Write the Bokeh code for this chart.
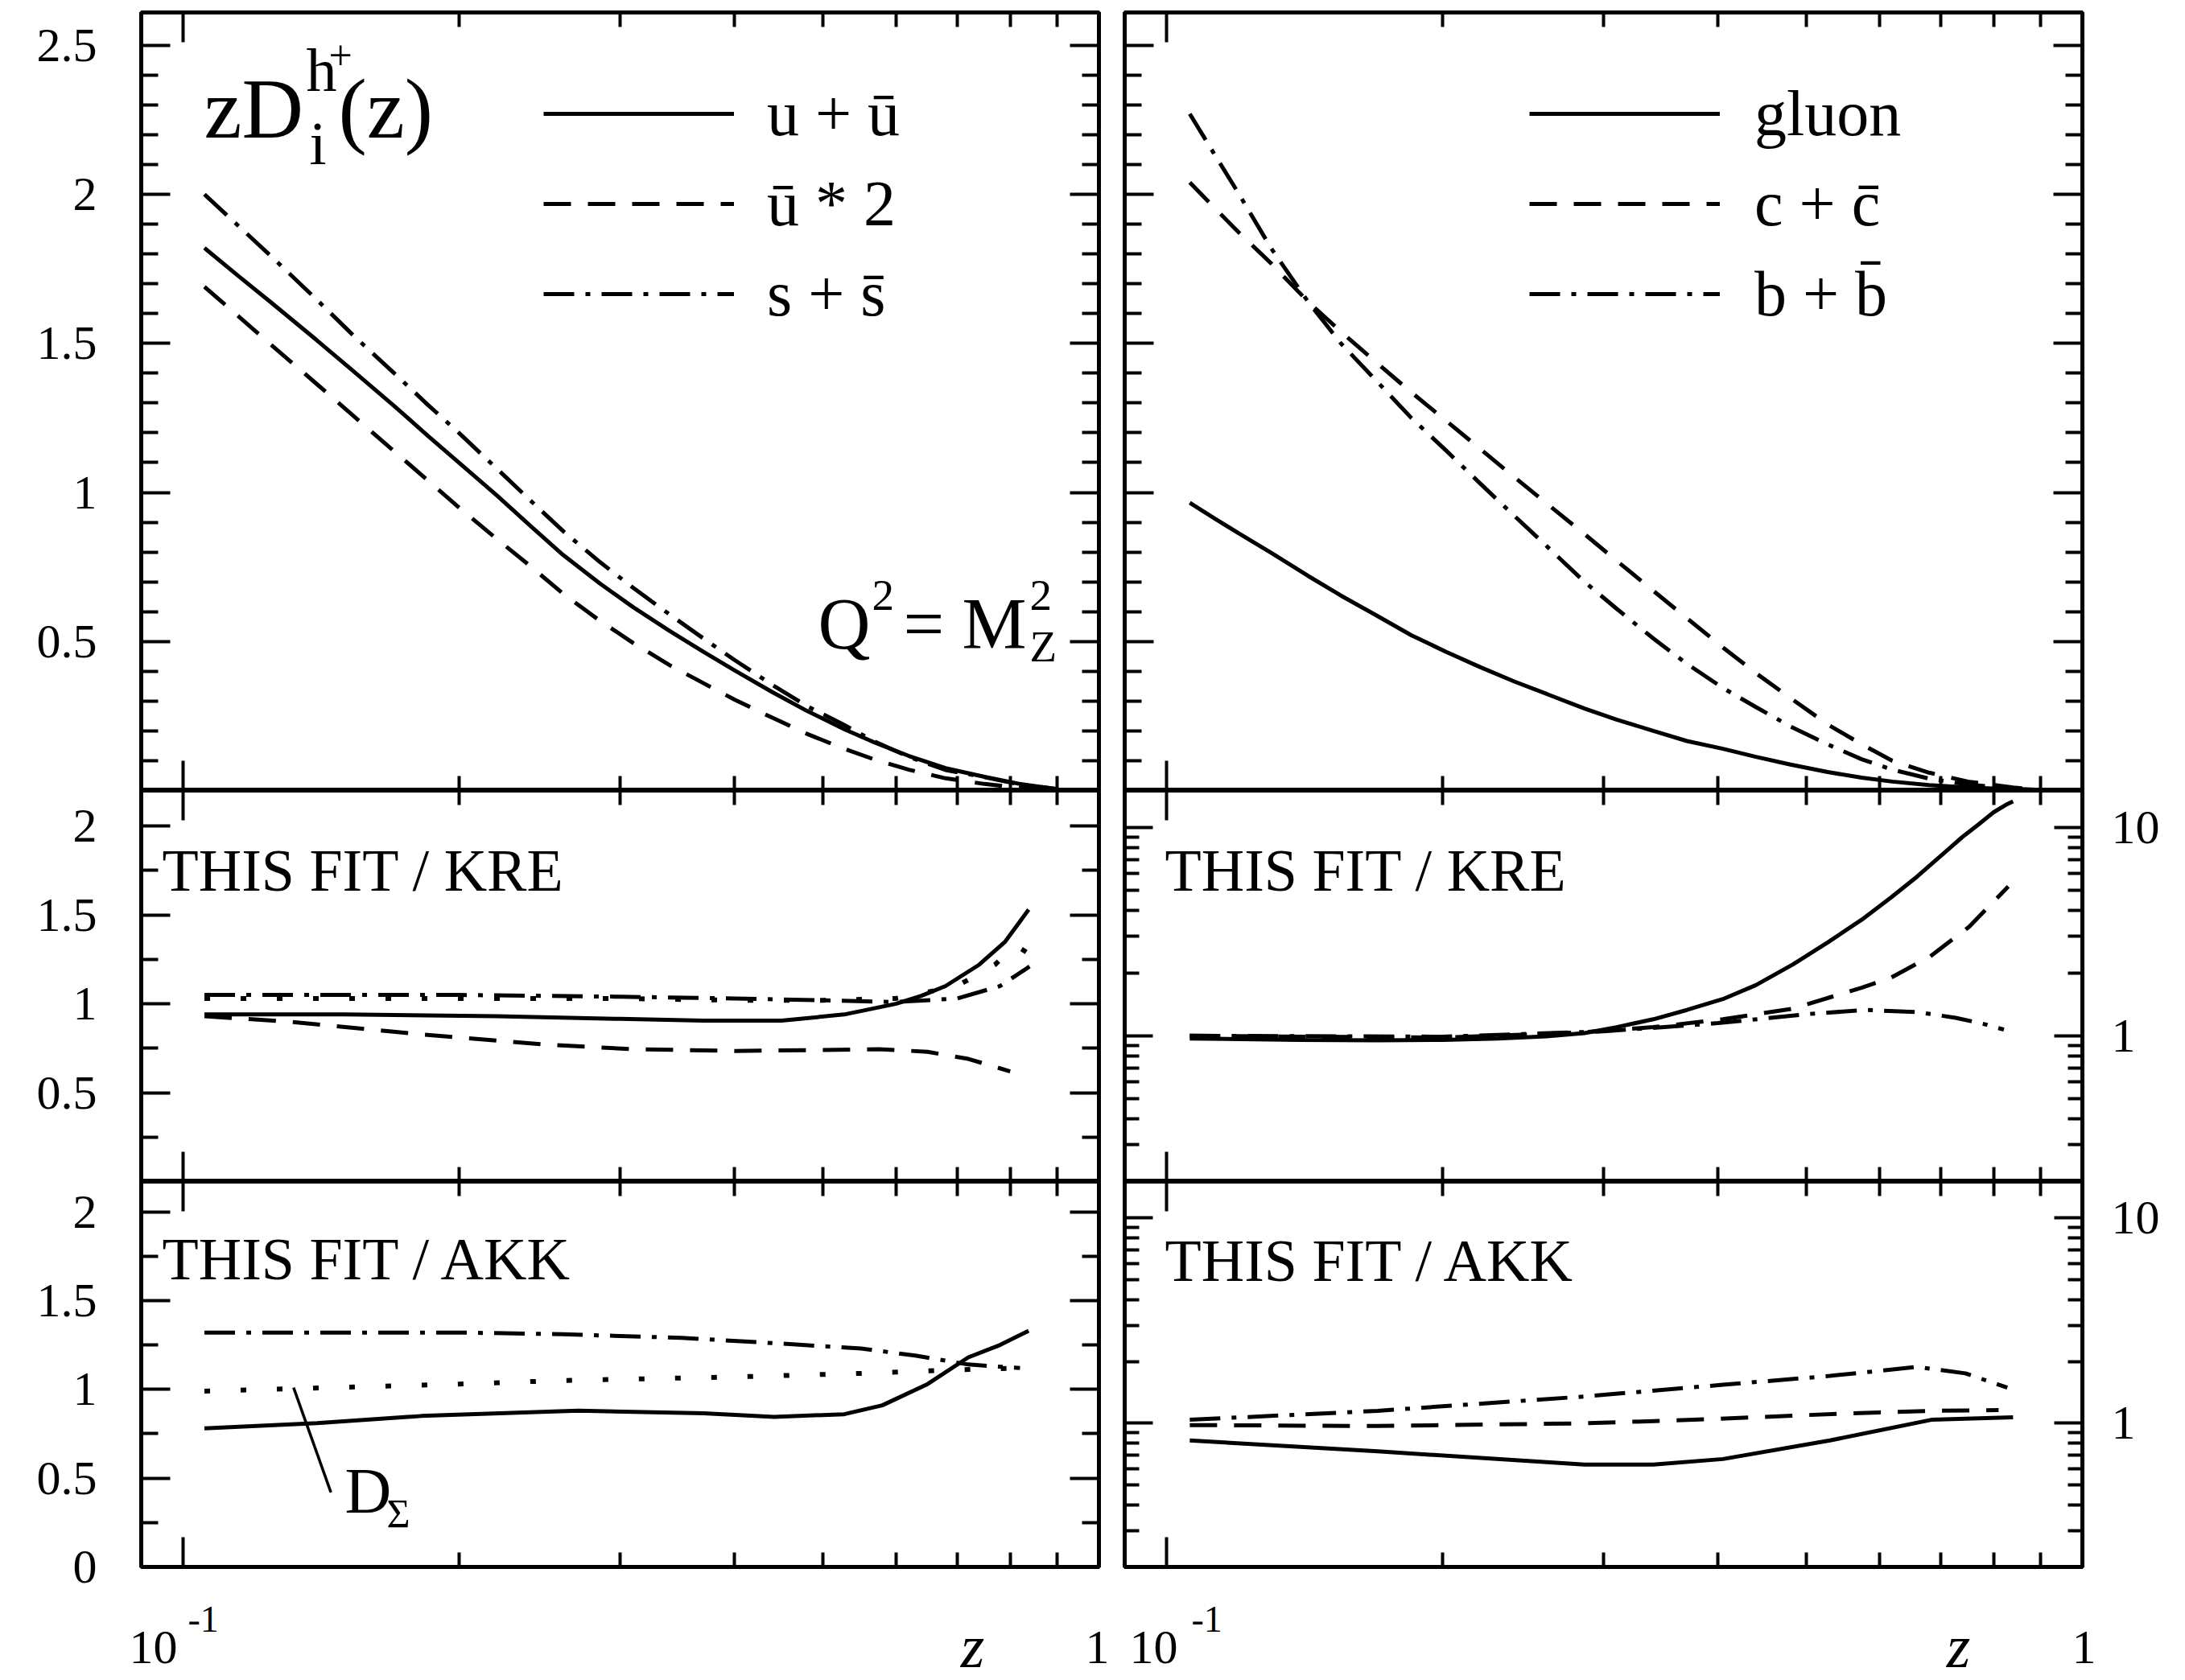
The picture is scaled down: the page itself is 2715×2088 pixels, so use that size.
from bokeh.plotting import figure
from bokeh.layouts import gridplot, row, column
from bokeh.models import (LinearAxis, LogAxis, FixedTicker, Label, Legend, LegendItem, Range1d,
                          CustomJSTickFormatter, BasicTickFormatter)
from bokeh.embed import file_html
from bokeh.resources import INLINE
from bokeh.core.properties import value

FONT = "Liberation Serif"

# ---------------- ticks ----------------
X_MAJOR = [0.1, 1.0]
X_MINOR = [0.2, 0.3, 0.4, 0.5, 0.6, 0.7, 0.8, 0.9]
TOP_Y_MAJOR = [0.5, 1.0, 1.5, 2.0, 2.5]
TOP_Y_MINOR = [0.1, 0.2, 0.3, 0.4, 0.6, 0.7, 0.8, 0.9, 1.1, 1.2, 1.3, 1.4,
               1.6, 1.7, 1.8, 1.9, 2.1, 2.2, 2.3, 2.4]
TOP_Y_LABELS = {0.5: "0.5", 1.0: "1", 1.5: "1.5", 2.0: "2", 2.5: "2.5"}
MID_Y_MAJOR = [0.5, 1.0, 1.5, 2.0]
MID_Y_LABELS = {0.5: "0.5", 1.0: "1", 1.5: "1.5", 2.0: "2"}
BOT_Y_MAJOR = [0.0, 0.5, 1.0, 1.5, 2.0]
BOT_Y_LABELS = {0.0: "0", 0.5: "0.5", 1.0: "1", 1.5: "1.5", 2.0: "2"}
RATIO_Y_MINOR = [0.25, 0.75, 1.25, 1.75]
LOG_Y_MAJOR = [1, 10]
LOG_Y_MINOR = [0.2, 0.3, 0.4, 0.5, 0.6, 0.7, 0.8, 0.9, 2, 3, 4, 5, 6, 7, 8, 9]
LOG_Y_LABELS = {1: "1", 10: "10"}

# ---------------- top left: zD_i^{h+}(z) at Q^2 = M_Z^2 ----------------
q_z = [0.1055, 0.115, 0.125, 0.14, 0.153, 0.17, 0.185, 0.2, 0.22, 0.24, 0.26, 0.285, 0.31,
       0.34, 0.37, 0.40, 0.44, 0.48, 0.527, 0.57, 0.62, 0.68, 0.75, 0.82, 0.9]
uu_v = [1.82, 1.725, 1.635, 1.51, 1.41, 1.29, 1.19, 1.10, 0.99, 0.885, 0.79, 0.695, 0.615,
        0.535, 0.465, 0.403, 0.33, 0.267, 0.206, 0.16, 0.116, 0.075, 0.046, 0.022, 0.005]
ub2_v = [1.69, 1.59, 1.493, 1.363, 1.26, 1.138, 1.04, 0.95, 0.844, 0.75, 0.66, 0.57, 0.495,
         0.42, 0.36, 0.305, 0.244, 0.19, 0.14, 0.103, 0.07, 0.041, 0.022, 0.009, 0.002]
ss_v = [2.00, 1.893, 1.79, 1.646, 1.53, 1.40, 1.294, 1.20, 1.08, 0.97, 0.87, 0.767, 0.68,
        0.59, 0.51, 0.438, 0.354, 0.283, 0.22, 0.163, 0.113, 0.069, 0.045, 0.02, 0.005]

# ---------------- top right ----------------
h_z = [0.106, 0.113, 0.12, 0.13, 0.1427, 0.155, 0.17, 0.185, 0.202, 0.22, 0.24, 0.26, 0.286,
       0.31, 0.34, 0.37, 0.405, 0.44, 0.48, 0.527, 0.574, 0.62, 0.68, 0.75, 0.84, 0.9]
g_v = [0.965, 0.911, 0.862, 0.798, 0.72, 0.654, 0.585, 0.521, 0.465, 0.414, 0.365, 0.324, 0.275,
       0.238, 0.20, 0.166, 0.14, 0.113, 0.087, 0.062, 0.043, 0.03, 0.018, 0.01, 0.004, 0.001]
c_v = [2.04, 1.952, 1.871, 1.769, 1.64, 1.539, 1.432, 1.336, 1.24, 1.146, 1.05, 0.963, 0.86,
       0.771, 0.67, 0.578, 0.48, 0.394, 0.31, 0.222, 0.155, 0.10, 0.06, 0.03, 0.01, 0.003]
b_v = [2.27, 2.13, 2.0, 1.82, 1.64, 1.50, 1.37, 1.25, 1.14, 1.03, 0.92, 0.82, 0.70,
       0.61, 0.51, 0.425, 0.344, 0.28, 0.215, 0.155, 0.105, 0.07, 0.04, 0.02, 0.006, 0.002]

# ---------------- middle left: THIS FIT / KRE ----------------
kre_uu_z = [0.1055, 0.15, 0.22, 0.3, 0.37, 0.45, 0.527, 0.6, 0.64, 0.68, 0.74, 0.79, 0.838]
kre_uu_v = [0.94, 0.94, 0.93, 0.915, 0.905, 0.905, 0.94, 1.0, 1.045, 1.1, 1.22, 1.35, 1.53]
kre_ub_z = [0.1055, 0.13, 0.18, 0.25, 0.31, 0.4, 0.5, 0.575, 0.65, 0.72, 0.8]
kre_ub_v = [0.93, 0.90, 0.83, 0.77, 0.745, 0.735, 0.74, 0.745, 0.73, 0.69, 0.62]
kre_ss_z = [0.1055, 0.2, 0.3, 0.4, 0.5, 0.6, 0.7, 0.78, 0.84]
kre_ss_v = [1.05, 1.05, 1.04, 1.03, 1.02, 1.01, 1.03, 1.1, 1.21]
kre_ds_z = [0.1055, 0.2, 0.3, 0.4, 0.5, 0.6, 0.7, 0.77, 0.81, 0.84]
kre_ds_v = [1.03, 1.03, 1.03, 1.02, 1.02, 1.03, 1.1, 1.22, 1.33, 1.28]

# ---------------- middle right: THIS FIT / KRE ----------------
kre_g_z = [0.106, 0.14, 0.17, 0.2, 0.23, 0.26, 0.286, 0.31, 0.34, 0.37, 0.405, 0.44, 0.483,
           0.527, 0.574, 0.618, 0.66, 0.708, 0.74, 0.772, 0.80, 0.825, 0.84]
kre_g_v = [0.97, 0.955, 0.95, 0.955, 0.97, 0.995, 1.03, 1.1, 1.2, 1.33, 1.5, 1.75, 2.2,
           2.8, 3.6, 4.6, 5.8, 7.6, 9.0, 10.4, 11.8, 12.8, 13.3]
kre_c_z = [0.106, 0.2, 0.286, 0.34, 0.405, 0.483, 0.574, 0.618, 0.682, 0.752, 0.814, 0.83]
kre_c_v = [1.0, 0.98, 1.04, 1.1, 1.2, 1.35, 1.7, 1.9, 2.4, 3.33, 4.76, 5.2]
kre_b_z = [0.106, 0.2, 0.3, 0.4, 0.5, 0.58, 0.66, 0.727, 0.78, 0.821]
kre_b_v = [1.0, 0.99, 1.05, 1.15, 1.27, 1.33, 1.3, 1.22, 1.14, 1.07]

# ---------------- bottom left: THIS FIT / AKK ----------------
akk_uu_z = [0.1055, 0.14, 0.182, 0.27, 0.37, 0.442, 0.527, 0.58, 0.65, 0.72, 0.78, 0.838]
akk_uu_v = [0.78, 0.81, 0.85, 0.88, 0.865, 0.845, 0.86, 0.91, 1.03, 1.18, 1.25, 1.33]
akk_ss_z = [0.1055, 0.2, 0.26, 0.35, 0.442, 0.55, 0.63, 0.72, 0.82]
akk_ss_v = [1.32, 1.32, 1.31, 1.29, 1.26, 1.23, 1.19, 1.14, 1.12]
akk_ds_z = [0.1055, 0.2, 0.26, 0.4, 0.55, 0.7, 0.82]
akk_ds_v = [0.99, 1.03, 1.05, 1.07, 1.09, 1.11, 1.12]
dsig_ptr_z = [0.132, 0.145]
dsig_ptr_v = [1.01, 0.42]

# ---------------- bottom right: THIS FIT / AKK ----------------
akk_g_z = [0.106, 0.17, 0.286, 0.34, 0.405, 0.53, 0.684, 0.84]
akk_g_v = [0.825, 0.73, 0.63, 0.63, 0.67, 0.825, 1.04, 1.07]
akk_c_z = [0.106, 0.17, 0.286, 0.4, 0.483, 0.6, 0.684, 0.81]
akk_c_v = [0.98, 0.97, 1.0, 1.05, 1.09, 1.13, 1.15, 1.16]
akk_b_z = [0.106, 0.17, 0.286, 0.405, 0.53, 0.66, 0.745, 0.828]
akk_b_v = [1.04, 1.15, 1.35, 1.54, 1.7, 1.88, 1.75, 1.49]

# ---------------- styles ----------------
LW = 5
SOLID = "solid"
DASH = "34 21"
DASHDOT = "38 14 6 14"
DOT = "7 38"
K_BASE = 0.33   # baseline correction (fraction of font size)

FW = 1190


def style_axis(ax, major_in, minor_in, labels=None, standoff=0, size="60px"):
    ax.axis_line_color = "black"
    ax.axis_line_width = 5
    ax.major_tick_in = major_in
    ax.major_tick_out = 0
    ax.minor_tick_in = minor_in
    ax.minor_tick_out = 0
    ax.major_tick_line_color = "black"
    ax.minor_tick_line_color = "black"
    ax.major_tick_line_width = 4
    ax.minor_tick_line_width = 4
    ax.major_label_text_font = FONT
    ax.major_label_text_color = "black"
    if labels is None:
        ax.formatter = CustomJSTickFormatter(code="return ''")
        ax.major_label_text_font_size = "1px"
        ax.major_label_standoff = 0
    else:
        ax.formatter = BasicTickFormatter()
        ax.major_label_overrides = labels
        ax.major_label_text_font_size = size
        ax.major_label_standoff = standoff


def make_panel(fh, bl, br, bt, bb, yr, ylog, ymajor, yminor, left_labels, right_labels):
    p = figure(x_axis_type="log", y_axis_type=("log" if ylog else "linear"),
               x_range=Range1d(0.09, 1.0), y_range=Range1d(*yr),
               frame_width=FW, frame_height=fh,
               min_border_left=bl, min_border_right=br, min_border_top=bt, min_border_bottom=bb,
               toolbar_location=None, output_backend="svg", title=None)
    p.xgrid.visible = False
    p.ygrid.visible = False
    p.outline_line_color = "black"
    p.outline_line_width = 5
    p.background_fill_color = "white"
    p.border_fill_color = "white"
    xb = p.below[0]
    xb.ticker = FixedTicker(ticks=X_MAJOR, minor_ticks=X_MINOR)
    style_axis(xb, 37, 18)
    xt = LogAxis(ticker=FixedTicker(ticks=X_MAJOR, minor_ticks=X_MINOR))
    style_axis(xt, 37, 18)
    p.add_layout(xt, "above")
    yl = p.left[0]
    yl.ticker = FixedTicker(ticks=ymajor, minor_ticks=yminor)
    if ylog:
        style_axis(yl, 35, 18, left_labels, 55)
        yrax = LogAxis(ticker=FixedTicker(ticks=ymajor, minor_ticks=yminor))
        style_axis(yrax, 35, 18, right_labels, 36)
    else:
        style_axis(yl, 36, 21, left_labels, 55)
        yrax = LinearAxis(ticker=FixedTicker(ticks=ymajor, minor_ticks=yminor))
        style_axis(yrax, 36, 21, right_labels, 36)
    p.add_layout(yrax, "right")
    return p


def label_row(width, height):
    p = figure(frame_width=width, frame_height=height, min_border=0,
               x_range=Range1d(0, 1), y_range=Range1d(0, 1),
               x_axis_location=None, y_axis_location=None,
               toolbar_location=None, output_backend="svg", title=None)
    p.outline_line_color = None
    p.background_fill_color = "white"
    p.border_fill_color = "white"
    p.grid.visible = False
    return p


def curve(p, xs, ys, dash, lw=LW):
    return p.line(xs, ys, line_color="black", line_width=lw, line_dash=dash)


def put(p, origin, X, Y, text, size, align="left", style="normal"):
    x0, ybot = origin
    p.add_layout(Label(x=X - x0, y=ybot - Y + K_BASE * size, x_units="screen", y_units="screen",
                       text=text, text_font=FONT, text_font_size=f"{size}px",
                       text_align=align, text_baseline="alphabetic",
                       text_font_style=style, text_color="black"))


def legend(p, items, vx, vy, standoff):
    leg = Legend(items=[LegendItem(label=value(t), renderers=[r]) for t, r in items],
                 location=(vx, vy), orientation="vertical",
                 glyph_width=237, glyph_height=112, label_height=112, label_standoff=standoff,
                 spacing=0, padding=0, margin=0, border_line_color=None,
                 background_fill_alpha=0, label_text_font=FONT, label_text_font_size="80px",
                 label_text_color="black")
    p.add_layout(leg)


BB = 34               # bottom border of the lowest panels
ROW_H = 2088 - 1947 - BB

# frame origins (canvas x of frame left, canvas y of frame bottom)
O_TL = (175, 982)
O_TR = (1397, 982)
O_ML = (175, 1468)
O_MR = (1397, 1468)
O_BL = (175, 1947)
O_BR = (1397, 1947)
O_LL = (0, 2088)
O_LR = (1381, 2088)

tl = make_panel(967, 175, 16, 15, 0, (0, 2.61), False, TOP_Y_MAJOR, TOP_Y_MINOR, TOP_Y_LABELS, None)
tr = make_panel(967, 16, 128, 15, 0, (0, 2.61), False, TOP_Y_MAJOR, TOP_Y_MINOR, None, None)
ml = make_panel(486, 175, 16, 0, 0, (0, 2.2), False, MID_Y_MAJOR, RATIO_Y_MINOR, MID_Y_LABELS, None)
mr = make_panel(486, 16, 128, 0, 0, (0.2, 15), True, LOG_Y_MAJOR, LOG_Y_MINOR, None, LOG_Y_LABELS)
bl = make_panel(479, 175, 16, 0, BB, (0, 2.17), False, BOT_Y_MAJOR, RATIO_Y_MINOR, BOT_Y_LABELS, None)
br = make_panel(479, 16, 128, 0, BB, (0.2, 15), True, LOG_Y_MAJOR, LOG_Y_MINOR, None, LOG_Y_LABELS)
ll = label_row(1381, ROW_H)
lr = label_row(1334, ROW_H)

# top left
r_uu = curve(tl, q_z, uu_v, SOLID)
r_ub = curve(tl, q_z, ub2_v, DASH)
r_ss = curve(tl, q_z, ss_v, DASHDOT)
legend(tl, [("u + ū", r_uu), ("ū * 2", r_ub), ("s + s̄", r_ss)], 500, 561, 41)
put(tl, O_TL, 253, 170, "zD", 106)
put(tl, O_TL, 380, 112, "h", 76)
put(tl, O_TL, 408, 85, "+", 52)
put(tl, O_TL, 384, 203, "i", 76)
put(tl, O_TL, 420, 170, "(z)", 106)
put(tl, O_TL, 1016, 805, "Q", 90)
put(tl, O_TL, 1083, 758, "2", 55)
put(tl, O_TL, 1122, 805, "=", 90)
put(tl, O_TL, 1195, 805, "M", 90)
put(tl, O_TL, 1279, 758, "2", 55)
put(tl, O_TL, 1279, 821, "Z", 55)

# top right
r_g = curve(tr, h_z, g_v, SOLID)
r_c = curve(tr, h_z, c_v, DASH)
r_b = curve(tr, h_z, b_v, DASHDOT)
legend(tr, [("gluon", r_g), ("c + c̄", r_c), ("b + b̄", r_b)], 503, 561, 43)

# middle left
curve(ml, kre_uu_z, kre_uu_v, SOLID)
curve(ml, kre_ub_z, kre_ub_v, DASH)
curve(ml, kre_ss_z, kre_ss_v, DASHDOT)
curve(ml, kre_ds_z, kre_ds_v, DOT, 6)
put(ml, O_ML, 201, 1106, "THIS FIT / KRE", 74)

# middle right
curve(mr, kre_g_z, kre_g_v, SOLID)
curve(mr, kre_c_z, kre_c_v, DASH)
curve(mr, kre_b_z, kre_b_v, DASHDOT)
put(mr, O_MR, 1447, 1106, "THIS FIT / KRE", 74)

# bottom left
curve(bl, akk_uu_z, akk_uu_v, SOLID)
curve(bl, akk_ss_z, akk_ss_v, DASHDOT)
curve(bl, akk_ds_z, akk_ds_v, DOT, 6)
bl.line(dsig_ptr_z, dsig_ptr_v, line_color="black", line_width=3.5)
put(bl, O_BL, 201, 1589, "THIS FIT / AKK", 74)
put(bl, O_BL, 428, 1879, "D", 80)
put(bl, O_BL, 480, 1897, "Σ", 50)

# bottom right
curve(br, akk_g_z, akk_g_v, SOLID)
curve(br, akk_c_z, akk_c_v, DASH)
curve(br, akk_b_z, akk_b_v, DASHDOT)
put(br, O_BR, 1447, 1591, "THIS FIT / AKK", 74)

# x axis labels (below bottom panels)
put(ll, O_LL, 220, 2067, "10", 60, align="right")
put(ll, O_LL, 233, 2027, "-1", 46)
put(ll, O_LL, 1363, 2067, "1", 60, align="center")
put(ll, O_LL, 1208, 2071, "z", 76, align="center", style="italic")
put(lr, O_LR, 1463, 2067, "10", 60, align="right")
put(lr, O_LR, 1480, 2027, "-1", 46)
put(lr, O_LR, 2589, 2067, "1", 60, align="center")
put(lr, O_LR, 2433, 2071, "z", 76, align="center", style="italic")

grid = gridplot([[tl, tr], [ml, mr], [bl, br]], toolbar_location=None)
layout = column(grid, row(ll, lr, spacing=0), spacing=0)

html = file_html(layout, INLINE, title="zD_i^h+(z)")
html = html.replace("<head>", "<head><style>html,body{margin:0;padding:0;}</style>", 1)
open("out.html", "w").write(html)
